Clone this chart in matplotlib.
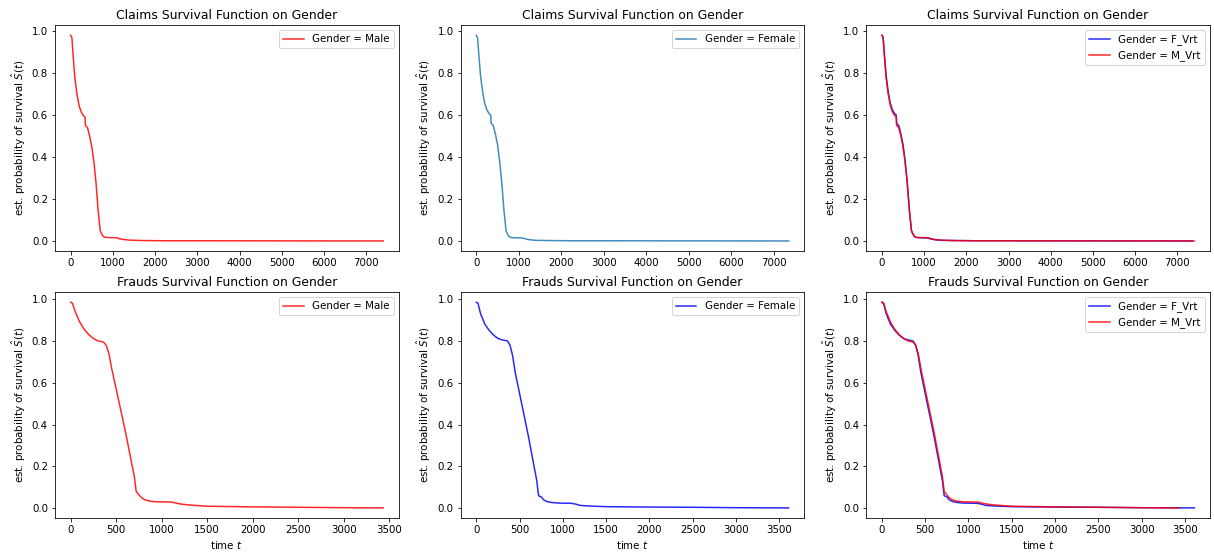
import matplotlib
matplotlib.use("Agg")
import matplotlib.pyplot as plt
import numpy as np

# survival curves (time, S(t))
claims_male_t = [0, 30, 60, 100, 150, 200, 250, 300, 340, 350, 400, 450, 500, 550,
                 600, 650, 700, 720, 760, 800, 900, 1000, 1100, 1150, 1250, 1400,
                 1700, 2200, 3000, 5000, 7400]
claims_male_s = [0.98, 0.97, 0.88, 0.78, 0.70, 0.645, 0.615, 0.598, 0.59, 0.55, 0.54,
                 0.50, 0.45, 0.38, 0.28, 0.15, 0.05, 0.04, 0.025, 0.018, 0.016, 0.016,
                 0.015, 0.011, 0.007, 0.004, 0.002, 0.001, 0.001, 0.0005, 0.0]

claims_female_t = [0, 30, 60, 100, 150, 200, 250, 300, 340, 350, 400, 450, 500, 550,
                   600, 650, 700, 720, 760, 800, 900, 1000, 1100, 1150, 1250, 1400,
                   1700, 2200, 3000, 5000, 7350]
claims_female_s = [0.98, 0.97, 0.89, 0.79, 0.71, 0.655, 0.625, 0.607, 0.60, 0.56, 0.55,
                   0.51, 0.46, 0.38, 0.28, 0.15, 0.05, 0.04, 0.024, 0.017, 0.015, 0.015,
                   0.014, 0.010, 0.006, 0.003, 0.002, 0.001, 0.001, 0.0005, 0.0]

frauds_male_t = [0, 20, 50, 100, 150, 200, 250, 300, 360, 390, 420, 450, 500, 550,
                 600, 650, 700, 720, 750, 780, 820, 870, 950, 1100, 1150, 1200, 1300,
                 1500, 2000, 2500, 3000, 3430]
frauds_male_s = [0.985, 0.98, 0.94, 0.89, 0.855, 0.83, 0.812, 0.80, 0.795, 0.78, 0.74,
                 0.67, 0.57, 0.47, 0.37, 0.26, 0.15, 0.08, 0.065, 0.05, 0.04, 0.034,
                 0.031, 0.03, 0.026, 0.021, 0.016, 0.01, 0.007, 0.005, 0.003, 0.002]

frauds_female_t = [0, 20, 50, 100, 150, 200, 250, 300, 360, 390, 420, 450, 500, 550,
                   600, 650, 700, 720, 750, 780, 820, 870, 950, 1100, 1150, 1200, 1300,
                   1500, 2000, 2500, 3000, 3610]
frauds_female_s = [0.985, 0.98, 0.93, 0.88, 0.85, 0.828, 0.812, 0.805, 0.80, 0.78, 0.73,
                   0.65, 0.55, 0.45, 0.35, 0.24, 0.13, 0.06, 0.055, 0.04, 0.032, 0.028,
                   0.025, 0.024, 0.02, 0.014, 0.011, 0.008, 0.006, 0.005, 0.003, 0.002]

ylab = r"est. probability of survival $\hat{S}(t)$"

plt.rcParams["font.size"] = 10.3
plt.rcParams["axes.titlesize"] = 12.4

fig, axes = plt.subplots(2, 3, figsize=(1214 / 72, 556 / 72), dpi=72)
fig.subplots_adjust(left=0.0453, right=0.9967, top=0.955, bottom=0.068,
                    wspace=0.18, hspace=0.18)

# top row: claims
ax = axes[0, 0]
ax.plot(claims_male_t, claims_male_s, color="red", alpha=0.85, label="Gender = Male")
ax.set_title("Claims Survival Function on Gender")

ax = axes[0, 1]
ax.plot(claims_female_t, claims_female_s, color="#1f77b4", alpha=0.85, label="Gender = Female")
ax.set_title("Claims Survival Function on Gender")

ax = axes[0, 2]
ax.plot(claims_female_t, claims_female_s, color="blue", alpha=0.85, label="Gender = F_Vrt")
ax.plot(claims_male_t, claims_male_s, color="red", alpha=0.85, label="Gender = M_Vrt")
ax.set_title("Claims Survival Function on Gender")

# bottom row: frauds
ax = axes[1, 0]
ax.plot(frauds_male_t, frauds_male_s, color="red", alpha=0.85, label="Gender = Male")
ax.set_title("Frauds Survival Function on Gender")

ax = axes[1, 1]
ax.plot(frauds_female_t, frauds_female_s, color="blue", alpha=0.85, label="Gender = Female")
ax.set_title("Frauds Survival Function on Gender")

ax = axes[1, 2]
ax.plot(frauds_female_t, frauds_female_s, color="blue", alpha=0.85, label="Gender = F_Vrt")
ax.plot(frauds_male_t, frauds_male_s, color="red", alpha=0.85, label="Gender = M_Vrt")
ax.set_title("Frauds Survival Function on Gender")

for ax in axes.flat:
    ax.set_ylabel(ylab)
    ax.legend(loc="upper right")
for ax in axes[1]:
    ax.set_xlabel("time $t$")

fig.savefig("out.png", dpi=72)
